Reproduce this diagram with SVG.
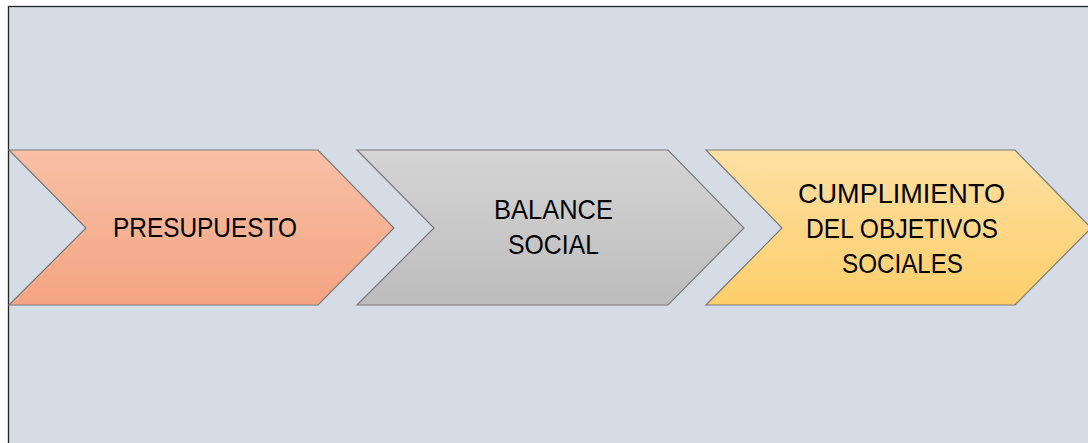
<svg xmlns="http://www.w3.org/2000/svg" width="1088" height="443" viewBox="0 0 1088 443">
<defs>
<linearGradient id="g1" x1="0" y1="0" x2="0" y2="1"><stop offset="0" stop-color="#F8C0A6"/><stop offset="1" stop-color="#F4A482"/></linearGradient>
<linearGradient id="g2" x1="0" y1="0" x2="0" y2="1"><stop offset="0" stop-color="#D5D5D5"/><stop offset="1" stop-color="#BCBCBC"/></linearGradient>
<linearGradient id="g3" x1="0" y1="0" x2="0" y2="1"><stop offset="0" stop-color="#FEE0A4"/><stop offset="1" stop-color="#FDCE6A"/></linearGradient>
</defs>
<style>
.chev{stroke:#7A7A7A;stroke-width:1.2;stroke-linejoin:miter}
.lbl{font-family:"Liberation Sans",Arial,sans-serif;font-size:28px;fill:#000;text-anchor:middle}
</style>
<rect x="0" y="0" width="1088" height="443" fill="#FFFFFF"/>
<rect x="8.5" y="6.5" width="1100" height="460" fill="#D5DCE6" stroke="#262626" stroke-width="1.3"/>
<g id="connectors"></g>
<g id="node-presupuesto">
<polygon class="chev" fill="url(#g1)" points="9,150 318,150 394,228 318,305 9,305 86,228"/>
<text class="lbl" x="205" y="237" textLength="184" lengthAdjust="spacingAndGlyphs">PRESUPUESTO</text>
</g>
<g id="node-balance">
<polygon class="chev" fill="url(#g2)" points="357,150 668,150 744,228 668,305 357,305 434,228"/>
<text class="lbl" x="553.5" y="219" textLength="119" lengthAdjust="spacingAndGlyphs">BALANCE</text>
<text class="lbl" x="553.5" y="254" textLength="91" lengthAdjust="spacingAndGlyphs">SOCIAL</text>
</g>
<g id="node-cumplimiento">
<polygon class="chev" fill="url(#g3)" points="706,150 1015,150 1091,228 1015,305 706,305 782,228"/>
<text class="lbl" x="901.5" y="203" textLength="207" lengthAdjust="spacingAndGlyphs">CUMPLIMIENTO</text>
<text class="lbl" x="902" y="238" textLength="192" lengthAdjust="spacingAndGlyphs">DEL OBJETIVOS</text>
<text class="lbl" x="902.5" y="273" textLength="121" lengthAdjust="spacingAndGlyphs">SOCIALES</text>
</g>
</svg>
